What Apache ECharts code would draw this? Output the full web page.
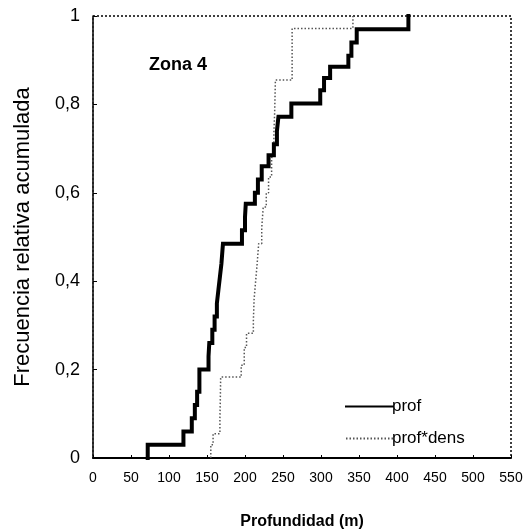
<!DOCTYPE html>
<html>
<head>
<meta charset="utf-8">
<script src="https://cdn.jsdelivr.net/npm/echarts@6/dist/echarts.min.js"></script>
<style>
  html, body { margin: 0; padding: 0; background: #fff; }
  #chart { width: 529px; height: 531px; }
</style>
</head>
<body>
<div id="chart"></div>
<script>
// Cumulative relative frequency by depth (m), Zona 4
const profDepth = [72, 72, 119, 130, 134, 137, 140, 152, 153, 157, 160, 163, 165, 167, 169, 171,
  196, 200, 201, 213, 217, 222, 231, 238, 242, 244, 261, 299, 304, 312, 336, 340, 347, 415];
const profFreq = [0, 0.03, 0.06, 0.09, 0.12, 0.15, 0.2, 0.23, 0.26, 0.29, 0.32, 0.35, 0.38, 0.41, 0.44, 0.485,
  0.515, 0.545, 0.575, 0.6, 0.63, 0.66, 0.685, 0.71, 0.74, 0.772, 0.802, 0.832, 0.86, 0.885, 0.91, 0.94, 0.97, 1.0];

const densDepth = [155, 155, 158, 167, 167.5, 168, 195, 199, 202, 211, 212, 214, 216, 218, 222, 224,
  228, 231, 235, 238, 239, 240, 262, 342];
const densFreq = [0, 0.03, 0.055, 0.09, 0.13, 0.183, 0.21, 0.25, 0.282, 0.31, 0.36, 0.4, 0.44, 0.485, 0.52, 0.568,
  0.6, 0.636, 0.68, 0.735, 0.78, 0.855, 0.972, 1.0];

const seriesNames = ['prof', 'prof*dens'];
const xTicks = { min: 0, max: 550, interval: 50 };
const yTicks = { min: 0, max: 1, interval: 0.2 };

const zip = (xs, ys) => xs.map((x, i) => [x, ys[i]]);
const FONT = 'Liberation Sans, Arial, sans-serif';

const chart = echarts.init(document.getElementById('chart'), null, { renderer: 'canvas' });
chart.setOption({
  animation: false,
  backgroundColor: '#fff',
  title: {
    text: 'Zona 4',
    left: 144, top: 51,
    textStyle: { fontFamily: FONT, fontSize: 18, fontWeight: 'bold', color: '#000' }
  },
  grid: {
    left: 93, right: 18, top: 16, bottom: 73,
    outerBoundsMode: 'none',
    containLabel: false,
    show: true, borderColor: '#000', borderWidth: 1.5,
    borderType: [2, 2], backgroundColor: '#fff'
  },
  legend: {
    orient: 'vertical',
    left: 340, top: 393,
    itemWidth: 47, itemHeight: 14, itemGap: 15,
    itemStyle: { opacity: 0 },
    textStyle: { fontFamily: FONT, fontSize: 17, color: '#000', padding: [0, 0, 0, -6] },
    data: seriesNames
  },
  xAxis: {
    type: 'value',
    min: xTicks.min, max: xTicks.max, interval: xTicks.interval,
    name: 'Profundidad (m)',
    nameLocation: 'middle', nameGap: 56,
    nameTextStyle: { fontFamily: FONT, fontSize: 16, fontWeight: 'bold', color: '#000' },
    axisLine: { show: true, lineStyle: { color: '#000', width: 2 } },
    axisTick: { show: true, inside: true, length: 3, lineStyle: { color: '#000' } },
    axisLabel: { fontFamily: FONT, fontSize: 14, color: '#000', margin: 13 },
    splitLine: { show: false }
  },
  yAxis: {
    type: 'value',
    min: yTicks.min, max: yTicks.max, interval: yTicks.interval,
    name: 'Frecuencia relativa acumulada',
    nameLocation: 'middle', nameGap: 59,
    nameTextStyle: { fontFamily: FONT, fontSize: 22, color: '#000' },
    axisLine: { show: true, lineStyle: { color: '#000', width: 1.5, type: [2, 2] } },
    axisTick: { show: true, inside: true, length: 4, lineStyle: { color: '#000' } },
    axisLabel: {
      fontFamily: FONT, fontSize: 18, color: '#000', margin: 13,
      formatter: v => String(v).replace('.', ',')
    },
    splitLine: { show: false }
  },
  series: [
    {
      name: seriesNames[0],
      type: 'line',
      step: 'end',
      symbol: 'none',
      data: zip(profDepth, profFreq),
      lineStyle: { color: '#000', width: 4, cap: 'square', join: 'miter' },
      itemStyle: { color: '#000' },
      z: 3
    },
    {
      name: seriesNames[1],
      type: 'line',
      step: 'end',
      symbol: 'none',
      data: zip(densDepth, densFreq),
      lineStyle: { color: '#555', width: 1.5, type: [1.5, 2] },
      itemStyle: { color: '#555' },
      z: 2
    }
  ]
});
</script>
</body>
</html>
